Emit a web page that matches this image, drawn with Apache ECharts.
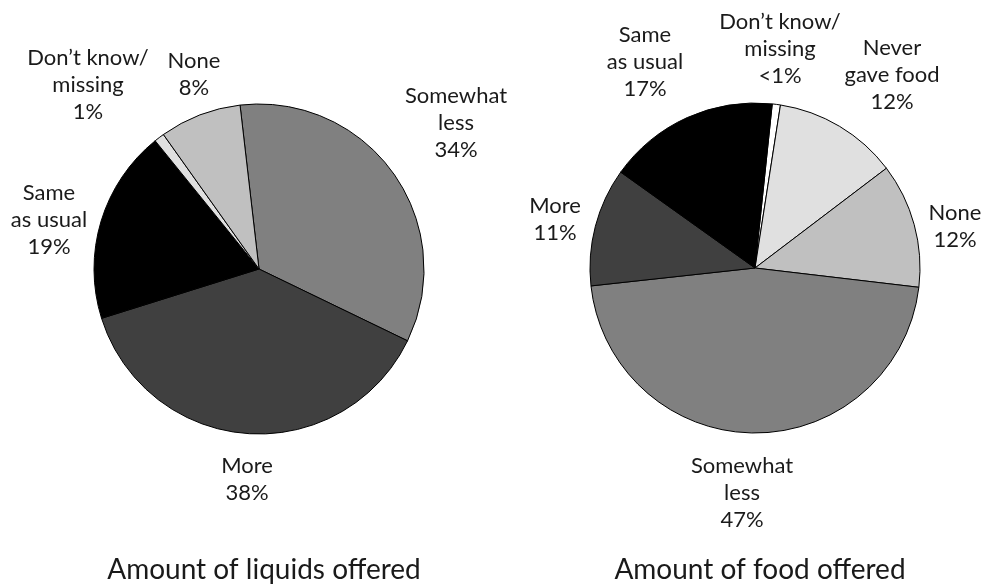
<!DOCTYPE html>
<html>
<head>
<meta charset="utf-8">
<script src="https://cdn.jsdelivr.net/npm/echarts@6/dist/echarts.min.js"></script>
<style>
  html, body { margin: 0; padding: 0; background: #fff; }
  #chart { width: 982px; height: 588px; }
</style>
</head>
<body>
<div id="chart"></div>
<script>
// liquids pie, clockwise from the top
const liquidNames = ["Somewhat\nless", "More", "Same\nas usual", "Don\u2019t know/\nmissing", "None"];
const liquidValues = [34, 38, 19, 1, 8];
const liquidText = ["34%", "38%", "19%", "1%", "8%"];

// food pie, clockwise from the top
const foodNames = ["Don\u2019t know/\nmissing", "Never\ngave food", "None", "Somewhat\nless", "More", "Same\nas usual"];
const foodValues = [0.8, 12.2, 12.2, 46.4, 11.6, 16.8];
const foodText = ["<1%", "12%", "12%", "47%", "11%", "17%"];

const liquidColors = ["#808080", "#404040", "#000000", "#e0e0e0", "#c0c0c0"];
const foodColors = ["#ffffff", "#e0e0e0", "#c0c0c0", "#808080", "#404040", "#000000"];

// where each label block sits (centre of text)
const liquidLabelPos = [[456, 123], [247, 479], [49, 220], [88, 85], [194, 74]];
const foodLabelPos = [[780, 49], [892, 75], [955, 226], [742, 493], [555, 219], [645, 62]];

const FONT = "Lato, 'Open Sans', sans-serif";

function makeSeries(names, values, texts, colors, center, startAngle, labelPos) {
  return {
    type: "pie",
    center: center,
    radius: 165,
    startAngle: startAngle,
    clockwise: true,
    avoidLabelOverlap: false,
    silent: true,
    itemStyle: {
      borderColor: "#000",
      borderWidth: 1
    },
    label: {
      show: true,
      position: "outside",
      color: "#1a1a1a",
      fontFamily: FONT,
      fontSize: 22,
      lineHeight: 27,
      align: "center",
      formatter: p => p.name + "\n" + texts[p.dataIndex]
    },
    labelLine: { show: false },
    labelLayout: p => ({
      x: labelPos[p.dataIndex][0],
      y: labelPos[p.dataIndex][1],
      align: "center",
      verticalAlign: "middle"
    }),
    data: names.map((n, i) => ({
      name: n,
      value: values[i],
      itemStyle: { color: colors[i] }
    }))
  };
}

const chart = echarts.init(document.getElementById("chart"), null, { renderer: "canvas" });
chart.setOption({
  animation: false,
  backgroundColor: "#fff",
  title: [{
    text: "Amount of liquids offered",
    left: 259,
    top: 551,
    textAlign: "center",
    textStyle: { fontFamily: FONT, fontSize: 28, fontWeight: "normal", color: "#1a1a1a" }
  }, {
    text: "Amount of food offered",
    left: 755,
    top: 551,
    textAlign: "center",
    textStyle: { fontFamily: FONT, fontSize: 28, fontWeight: "normal", color: "#1a1a1a" }
  }],
  series: [
    makeSeries(liquidNames, liquidValues, liquidText, liquidColors, [259, 269], 96.6, liquidLabelPos),
    makeSeries(foodNames, foodValues, foodText, foodColors, [755, 268], 84, foodLabelPos)
  ]
});
</script>
</body>
</html>
